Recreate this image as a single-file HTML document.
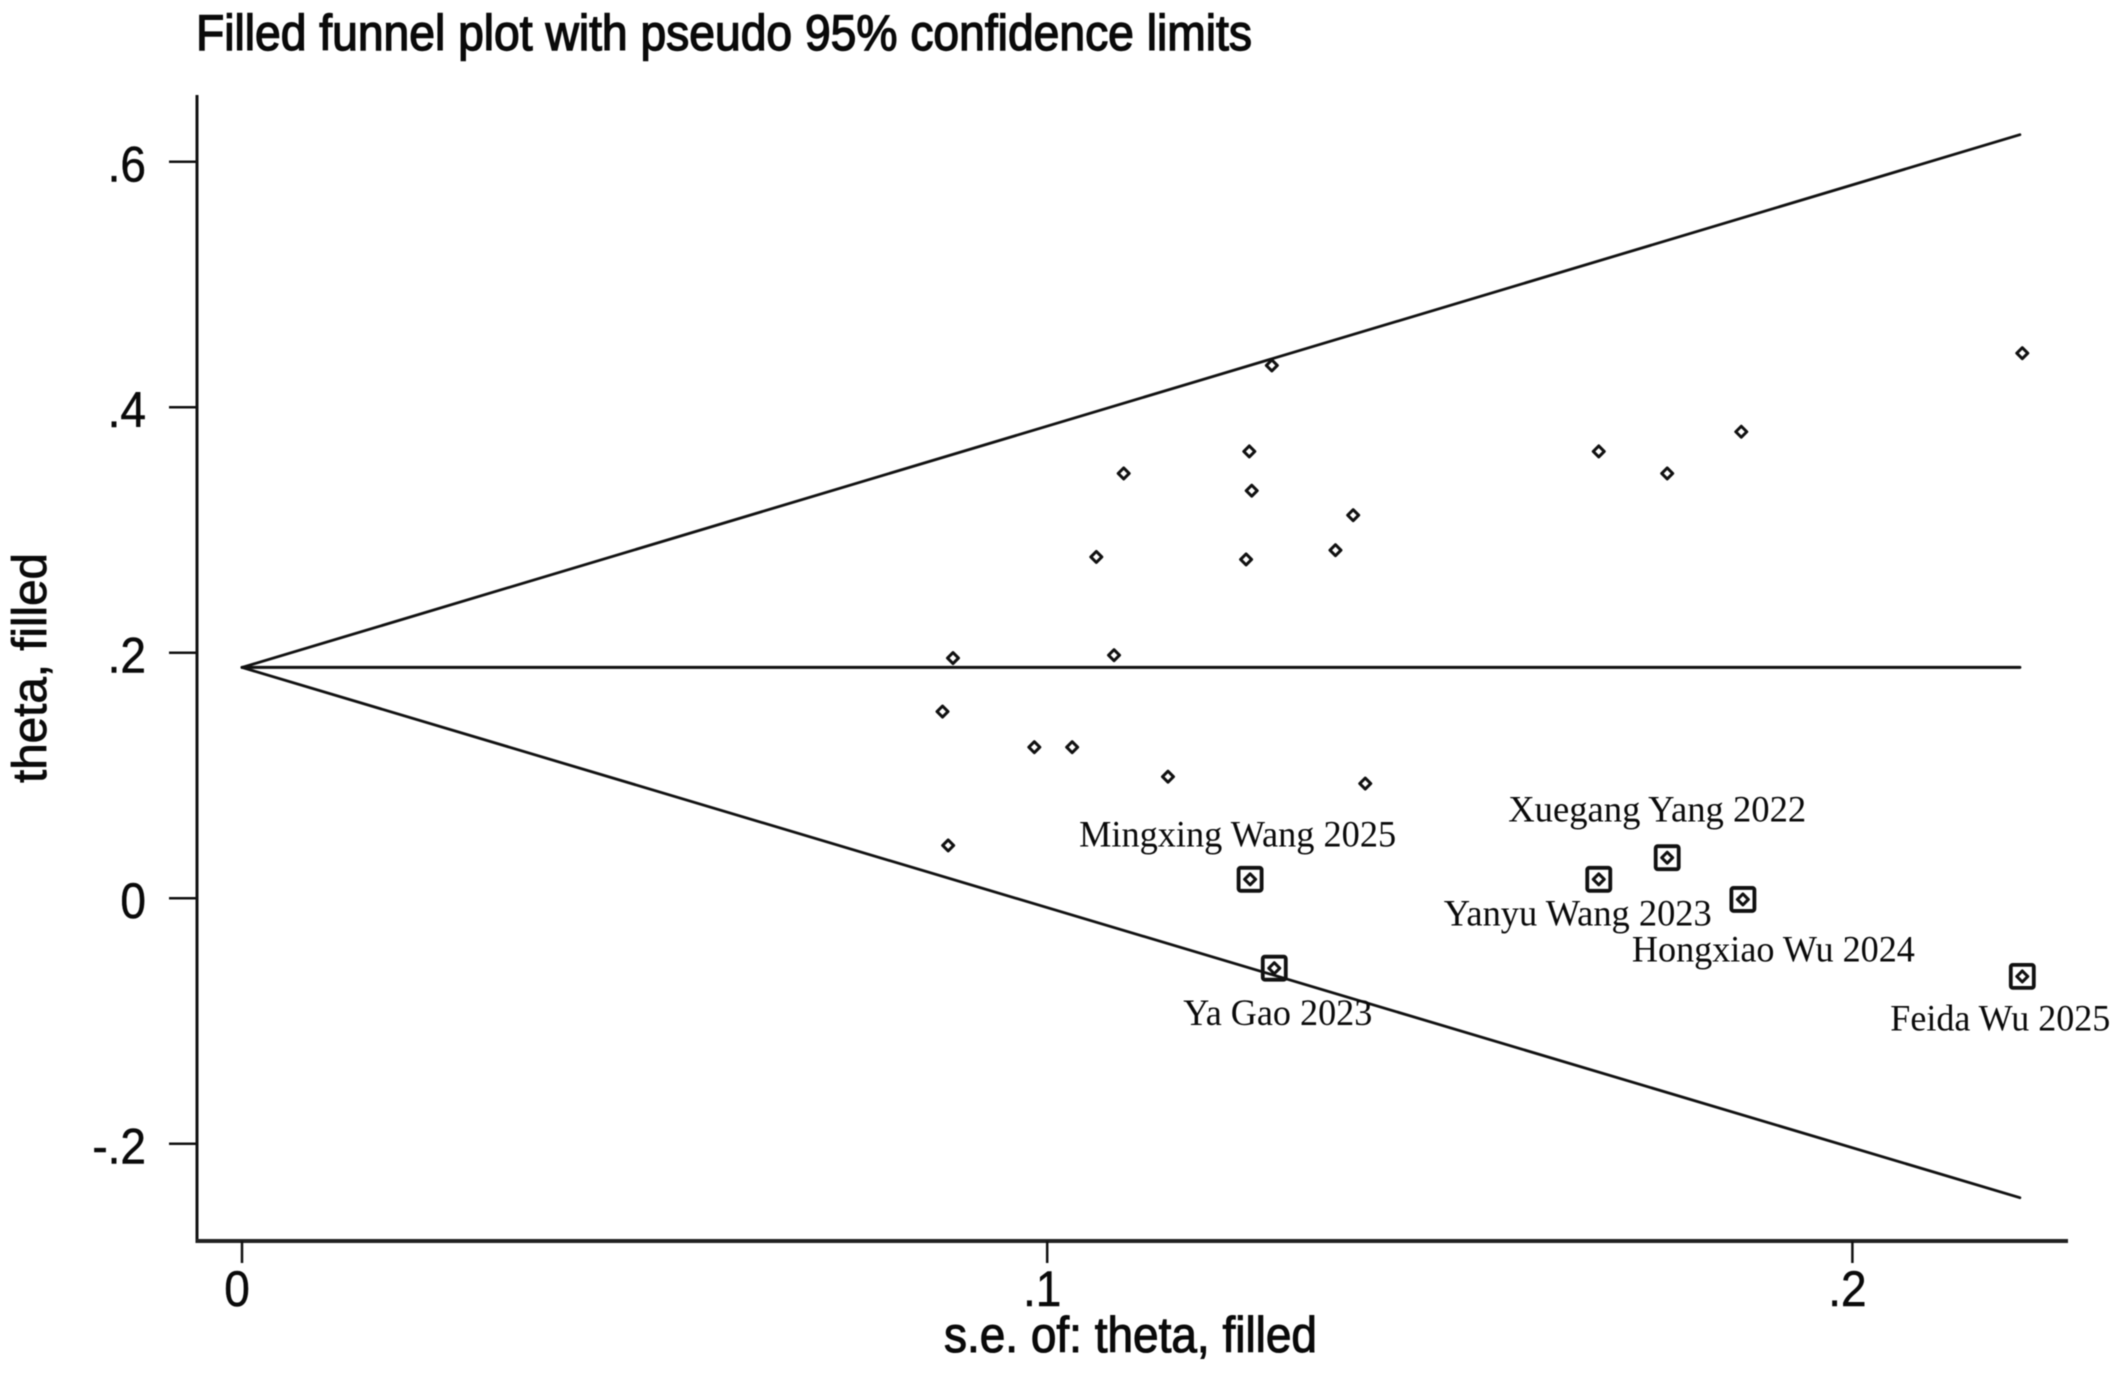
<!DOCTYPE html>
<html lang="en">
<head>
<meta charset="utf-8">
<title>Filled funnel plot</title>
<style>
html,body{margin:0;padding:0;background:#fff;}
body{width:2116px;height:1380px;overflow:hidden;}
svg{display:block;filter:blur(0.45px);}
text{fill:#0a0a0a;}
.sans{font-family:"Liberation Sans",Arial,sans-serif;}
.serif{font-family:"Liberation Serif","Times New Roman",serif;}
</style>
</head>
<body>
<svg id="chart" width="2116" height="1380" viewBox="0 0 2116 1380" xmlns="http://www.w3.org/2000/svg">
  <rect x="0" y="0" width="2116" height="1380" fill="#ffffff"/>
  <text class="sans" x="196" y="50" font-size="50" stroke="#0a0a0a" stroke-width="1.4" textLength="1056" lengthAdjust="spacingAndGlyphs">Filled funnel plot with pseudo 95% confidence limits</text>
  <text class="sans" x="944" y="1352" font-size="50" stroke="#0a0a0a" stroke-width="1.1" textLength="373" lengthAdjust="spacingAndGlyphs">s.e. of: theta, filled</text>
  <text class="sans" transform="translate(46,783) rotate(-90)" x="0" y="0" font-size="48" stroke="#0a0a0a" stroke-width="0.8" textLength="230" lengthAdjust="spacingAndGlyphs">theta, filled</text>
  <g id="axes"></g>
  <g id="lines"></g>
  <g id="points"></g>
  <g id="filled"></g>
</svg>
<script>
// Chart data
const xTickValues = [0, 0.1, 0.2];
const xTickLabels = ['0', '.1', '.2'];
const yTickValues = [-0.2, 0, 0.2, 0.4, 0.6];
const yTickLabels = ['-.2', '0', '.2', '.4', '.6'];

const studySE = [0.0883, 0.1083, 0.0870, 0.0984, 0.1031, 0.1150, 0.1395, 0.0877, 0.1279, 0.1251, 0.1254, 0.1095, 0.1061, 0.1247, 0.1358, 0.1380, 0.1685, 0.1770, 0.1862, 0.2211];
const studyTheta = [0.1956, 0.1980, 0.1520, 0.1230, 0.1230, 0.0990, 0.0934, 0.0430, 0.4340, 0.3640, 0.3320, 0.3460, 0.2780, 0.2760, 0.2835, 0.3120, 0.3640, 0.3460, 0.3800, 0.4440];

const filledNames = ['Mingxing Wang 2025', 'Yanyu Wang 2023', 'Xuegang Yang 2022', 'Hongxiao Wu 2024', 'Feida Wu 2025', 'Ya Gao 2023'];
const filledSE = [0.1252, 0.1685, 0.1770, 0.1864, 0.2211, 0.1282];
const filledTheta = [0.0154, 0.0154, 0.0330, -0.0010, -0.0637, -0.0570];

const lineSE = [0, 0.2208];
const centerTheta = [0.188, 0.188];
const upperTheta = [0.188, 0.622];
const lowerTheta = [0.188, -0.244];

// Label placement relative to each filled marker (layout only)
const labelDx = [-171, -155, -159, -111, -132, -91];
const labelDy = [-33, 46, -36, 62, 54, 57];
const labelWidths = [317, 268, 298, 283, 220, 189];

// Axis functions
const xOrigin = 242, xPerUnit = 8052;
const yOrigin = 898.2, yPerUnit = 1227.5;
function sx(v) { return xOrigin + v * xPerUnit; }
function sy(v) { return yOrigin - v * yPerUnit; }

const NS = 'http://www.w3.org/2000/svg';
function make(parent, tag, attrs, txt) {
  const el = document.createElementNS(NS, tag);
  for (const k in attrs) el.setAttribute(k, attrs[k]);
  if (txt !== undefined) el.textContent = txt;
  parent.appendChild(el);
  return el;
}
const axes = document.getElementById('axes');
const linesG = document.getElementById('lines');
const pointsG = document.getElementById('points');
const filledG = document.getElementById('filled');
const axisLeft = 197, axisBottom = 1241, axisTop = 95, axisRight = 2068;

const yAxisLine = make(axes, 'line', {x1: axisLeft, x2: axisLeft, y1: axisTop, y2: axisBottom + 2, stroke: '#111', 'stroke-width': 3});


const xAxisLine = make(axes, 'line', {x1: axisLeft - 1, x2: axisRight, y1: axisBottom, y2: axisBottom, stroke: '#222', 'stroke-width': 4});



yTickValues.forEach(function (v, i) {
  const tick = make(axes, 'line', {x1: 169, x2: axisLeft, y1: sy(v), y2: sy(v), stroke: '#111', 'stroke-width': 2.5});
  
  
  const lab = make(axes, 'text', {transform: 'translate(146,' + (sy(v) + 20) + ') scale(0.92,1)', 'text-anchor': 'end', 'font-size': 50, stroke: '#0a0a0a', 'stroke-width': 0.5, class: 'sans'}, yTickLabels[i]);
  
  
});
xTickValues.forEach(function (v, i) {
  const tick = make(axes, 'line', {x1: sx(v), x2: sx(v), y1: axisBottom, y2: 1263, stroke: '#111', 'stroke-width': 2.5});
  
  
  const lab = make(axes, 'text', {transform: 'translate(' + (sx(v) - 5) + ',1306) scale(0.92,1)', 'text-anchor': 'middle', 'font-size': 50, stroke: '#0a0a0a', 'stroke-width': 0.5, class: 'sans'}, xTickLabels[i]);
  
  
});

function seriesLine(thetas, width) {
  return make(linesG, 'line', {x1: sx(lineSE[0]), y1: sy(thetas[0]), x2: sx(lineSE[1]), y2: sy(thetas[1]), stroke: '#111', 'stroke-width': width, 'stroke-linecap': 'round'});
}
const centerLine = seriesLine(centerTheta, 3);


const upperLine = seriesLine(upperTheta, 2.8);


const lowerLine = seriesLine(lowerTheta, 2.8);



function diamond(parent, se, theta) {
  const cx = sx(se), cy = sy(theta), r = 5.5;
  const pts = [[cx, cy - r], [cx + r, cy], [cx, cy + r], [cx - r, cy]].map(function (p) { return p.join(','); }).join(' ');
  return make(parent, 'polygon', {points: pts, fill: '#fff', stroke: '#111', 'stroke-width': 3, 'stroke-linejoin': 'round'});
}

studySE.forEach(function (se, i) {
  const pt = diamond(pointsG, se, studyTheta[i]);
  
  
});

filledSE.forEach(function (se, i) {
  const cx = sx(se), cy = sy(filledTheta[i]);
  const box = make(filledG, 'rect', {x: cx - 11.5, y: cy - 11.5, width: 23, height: 23, rx: 2, fill: 'none', stroke: '#111', 'stroke-width': 3.8});
  
  
  const pt = diamond(filledG, se, filledTheta[i]);
  
  
  const lab = make(filledG, 'text', {x: cx + labelDx[i], y: cy + labelDy[i], 'font-size': 37, class: 'serif', textLength: labelWidths[i], lengthAdjust: 'spacingAndGlyphs'}, filledNames[i]);
  
  
});
</script>
</body>
</html>
